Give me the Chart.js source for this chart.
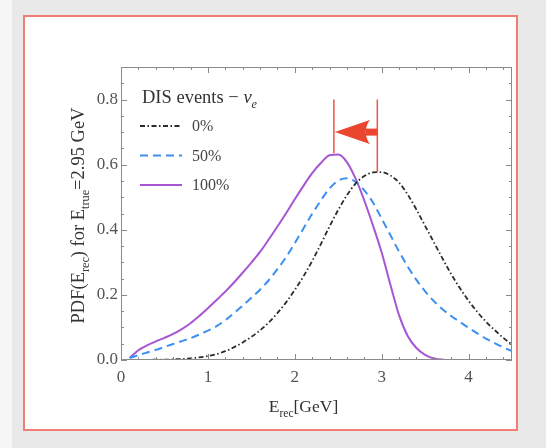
<!DOCTYPE html>
<html>
<head>
<meta charset="utf-8">
<script src="https://cdn.jsdelivr.net/npm/chart.js@4.4.1/dist/chart.umd.min.js"></script>
<style>
  html, body { margin: 0; padding: 0; }
  body { width: 546px; height: 448px; background: #e9e9e9; position: relative; overflow: hidden; }
  #strip { position: absolute; left: 0; top: 0; width: 12px; height: 448px; background: #f6f6f6; }
  #box { position: absolute; left: 23px; top: 15px; width: 491px; height: 412px; border: 2px solid #f27d74; background: #fff; }
  canvas { display: block; }
</style>
</head>
<body>
<div id="strip"></div>
<div id="box"><canvas id="chart" width="491" height="412"></canvas></div>
<script>
// reconstructed energy [GeV]
const energies = [0.1, 0.2, 0.3, 0.4, 0.5, 0.6, 0.7, 0.8, 0.9, 1.0,
  1.1, 1.2, 1.3, 1.4, 1.5, 1.6, 1.7, 1.8, 1.9, 2.0,
  2.1, 2.2, 2.3, 2.4, 2.5, 2.6, 2.7, 2.8, 2.9, 3.0,
  3.1, 3.2, 3.3, 3.4, 3.5, 3.6, 3.7, 3.8, 3.9, 4.0,
  4.1, 4.2, 4.3, 4.4, 4.5];

// PDF for E_true = 2.95 GeV, by DIS fraction
const pdf0 = [0.000, 0.000, 0.000, 0.001, 0.001, 0.002, 0.003, 0.005, 0.008, 0.012,
  0.018, 0.027, 0.039, 0.054, 0.071, 0.091, 0.115, 0.144, 0.177, 0.215,
  0.257, 0.304, 0.356, 0.410, 0.461, 0.506, 0.542, 0.565, 0.576, 0.577,
  0.567, 0.545, 0.508, 0.462, 0.412, 0.362, 0.312, 0.264, 0.221, 0.182,
  0.148, 0.118, 0.092, 0.068, 0.047];
const pdf50 = [0.006, 0.015, 0.023, 0.031, 0.040, 0.049, 0.058, 0.067, 0.078, 0.090,
  0.104, 0.122, 0.144, 0.167, 0.191, 0.216, 0.245, 0.279, 0.316, 0.359,
  0.404, 0.449, 0.490, 0.527, 0.551, 0.558, 0.547, 0.521, 0.484, 0.434,
  0.384, 0.333, 0.287, 0.246, 0.211, 0.181, 0.156, 0.135, 0.117, 0.099,
  0.082, 0.066, 0.052, 0.039, 0.027];
const pdf100 = [0.006, 0.030, 0.045, 0.057, 0.068, 0.080, 0.095, 0.113, 0.135, 0.159,
  0.184, 0.210, 0.238, 0.268, 0.299, 0.332, 0.370, 0.410, 0.451, 0.494,
  0.535, 0.574, 0.605, 0.629, 0.631, 0.608, 0.557, 0.490, 0.413, 0.330,
  0.232, 0.138, 0.074, 0.037, 0.016, 0.005, 0.001, 0.000, 0.000, 0.000,
  0.000, 0.000, 0.000, 0.000, 0.000];

const seriesLabels = ['0%', '50%', '100%'];
const xTickValues = [0, 1, 2, 3, 4];
const yTickValues = [0, 0.2, 0.4, 0.6, 0.8];

// peak shift marker: peak positions of the 100% and 0% curves
const peakE = [2.45, 2.95];
const peakPdf = [0.635, 0.577];
const markerTop = 0.80;
const arrowLevel = 0.70;
const arrowHeadBack = 2.84;

const SERIF = '"Liberation Serif", "DejaVu Serif", serif';

function toPoints(ys) {
  return energies.map((e, i) => ({ x: e, y: ys[i] }));
}

// draw a string made of normal / subscript / italic pieces
function richWidth(ctx, parts, size) {
  let w = 0;
  parts.forEach(p => {
    ctx.font = (p.it ? 'italic ' : '') + (p.sub ? size * 0.66 : size) + 'px ' + SERIF;
    w += ctx.measureText(p.t).width;
  });
  return w;
}
function drawRich(ctx, parts, x, y, size, align) {
  let cx = align === 'center' ? x - richWidth(ctx, parts, size) / 2 : x;
  ctx.textAlign = 'left';
  ctx.textBaseline = 'alphabetic';
  parts.forEach(p => {
    ctx.font = (p.it ? 'italic ' : '') + (p.sub ? size * 0.66 : size) + 'px ' + SERIF;
    ctx.fillText(p.t, cx, y + (p.sub ? size * 0.28 : 0));
    cx += ctx.measureText(p.t).width;
  });
}

const frameTicks = {
  id: 'frameTicks',
  afterDatasetsDraw(chart) {
    const { ctx, chartArea: a, scales: { x, y } } = chart;
    ctx.save();
    ctx.strokeStyle = '#8a8a8a';
    ctx.lineWidth = 1;
    ctx.strokeRect(a.left + 0.5, a.top + 0.5, a.right - a.left - 1, a.bottom - a.top - 1);
    ctx.beginPath();
    for (let i = 0; i <= 22; i++) {
      const px = Math.round(x.getPixelForValue(i * 0.2)) + 0.5;
      const len = i % 5 === 0 ? 6 : 3;
      ctx.moveTo(px, a.bottom); ctx.lineTo(px, a.bottom - len);
      ctx.moveTo(px, a.top); ctx.lineTo(px, a.top + len);
    }
    for (let i = 0; i <= 18; i++) {
      const py = Math.round(y.getPixelForValue(i * 0.05)) + 0.5;
      const len = i % 4 === 0 ? 6 : 3;
      ctx.moveTo(a.left, py); ctx.lineTo(a.left + len, py);
      ctx.moveTo(a.right, py); ctx.lineTo(a.right - len, py);
    }
    ctx.stroke();
    ctx.restore();
  }
};

const peakMarker = {
  id: 'peakMarker',
  afterDatasetsDraw(chart) {
    const { ctx, scales: { x, y } } = chart;
    ctx.save();
    ctx.strokeStyle = '#f05545';
    ctx.lineWidth = 1.5;
    ctx.beginPath();
    peakE.forEach((e, i) => {
      const px = x.getPixelForValue(e);
      ctx.moveTo(px, y.getPixelForValue(markerTop));
      ctx.lineTo(px, y.getPixelForValue(peakPdf[i]));
    });
    ctx.stroke();

    // arrow from the 0% peak towards the 100% peak
    const tip = x.getPixelForValue(peakE[0]) + 1;
    const tail = x.getPixelForValue(peakE[1]);
    const back = x.getPixelForValue(arrowHeadBack);
    const ay = y.getPixelForValue(arrowLevel);
    ctx.fillStyle = '#ea452f';
    ctx.beginPath();
    ctx.moveTo(tip, ay);
    ctx.lineTo(back + 2, ay - 12);
    ctx.quadraticCurveTo(back - 6, ay, back + 2, ay + 12);
    ctx.closePath();
    ctx.fill();
    ctx.fillRect(back - 2, ay - 3.5, tail - back + 2, 7);
    ctx.restore();
  }
};

const legendAndTitles = {
  id: 'legendAndTitles',
  afterDraw(chart) {
    const { ctx, chartArea: a } = chart;
    ctx.save();
    ctx.fillStyle = '#333';

    // legend heading
    drawRich(ctx, [{ t: 'DIS events \u2212 ' }, { t: '\u03bd', it: true }, { t: 'e', it: true, sub: true }],
      a.left + 21, a.top + 36, 18.5, 'left');

    // legend entries
    chart.data.datasets.forEach((ds, i) => {
      const ly = a.top + 59 + i * 29.5;
      ctx.strokeStyle = ds.borderColor;
      ctx.lineWidth = ds.borderWidth;
      ctx.setLineDash(ds.borderDash || []);
      ctx.beginPath();
      ctx.moveTo(a.left + 19, ly);
      ctx.lineTo(a.left + 61, ly);
      ctx.stroke();
      ctx.setLineDash([]);
      ctx.font = '16px ' + SERIF;
      ctx.fillStyle = '#444';
      ctx.textAlign = 'left';
      ctx.textBaseline = 'middle';
      ctx.fillText(ds.label, a.left + 71, ly + 1);
    });

    // axis titles
    ctx.fillStyle = '#333';
    drawRich(ctx, [{ t: 'E' }, { t: 'rec', sub: true }, { t: '[GeV]' }],
      (a.left + a.right) / 2 - 13, a.bottom + 52, 17.5, 'center');

    ctx.translate(a.left - 37, (a.top + a.bottom) / 2 + 2);
    ctx.rotate(-Math.PI / 2);
    drawRich(ctx, [{ t: 'PDF(E' }, { t: 'rec', sub: true }, { t: ') for E' }, { t: 'true', sub: true }, { t: '=2.95 GeV' }],
      0, 0, 18.5, 'center');
    ctx.restore();
  }
};

const chart = new Chart(document.getElementById('chart'), {
  type: 'line',
  data: {
    datasets: [
      {
        label: seriesLabels[0],
        data: toPoints(pdf0),
        borderColor: '#2b2b2b',
        borderWidth: 1.8,
        borderDash: [5, 2.5, 1.5, 2.5],
        pointRadius: 0,
        cubicInterpolationMode: 'monotone'
      },
      {
        label: seriesLabels[1],
        data: toPoints(pdf50),
        borderColor: '#3a8ff0',
        borderWidth: 2,
        borderDash: [8, 5],
        pointRadius: 0,
        cubicInterpolationMode: 'monotone'
      },
      {
        label: seriesLabels[2],
        data: toPoints(pdf100),
        borderColor: '#a855d4',
        borderWidth: 2,
        pointRadius: 0,
        cubicInterpolationMode: 'monotone'
      }
    ]
  },
  options: {
    responsive: false,
    animation: false,
    layout: { padding: { left: 0, top: 50, right: 4, bottom: 0 } },
    plugins: { legend: { display: false }, tooltip: { enabled: false } },
    scales: {
      x: {
        type: 'linear',
        min: 0,
        max: 4.5,
        grid: { display: false, drawTicks: false },
        border: { display: false },
        afterBuildTicks: s => { s.ticks = xTickValues.map(v => ({ value: v })); },
        afterFit: s => { s.height = 69; },
        ticks: {
          color: '#555',
          padding: 7,
          maxRotation: 0,
          font: { family: SERIF, size: 17 },
          callback: v => String(v)
        }
      },
      y: {
        min: 0,
        max: 0.9,
        grid: { display: false, drawTicks: false },
        border: { display: false },
        afterBuildTicks: s => { s.ticks = yTickValues.map(v => ({ value: v })); },
        afterFit: s => { s.width = 96; },
        ticks: {
          color: '#555',
          padding: 3,
          font: { family: SERIF, size: 17 },
          callback: v => v.toFixed(1)
        }
      }
    }
  },
  plugins: [frameTicks, peakMarker, legendAndTitles]
});
</script>
</body>
</html>
